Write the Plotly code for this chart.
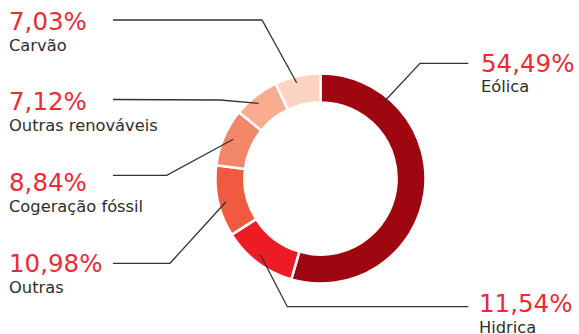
import plotly.graph_objects as go

labels = ["Eólica", "Hidrica", "Outras", "Cogeração fóssil", "Outras renováveis", "Carvão"]
values = [54.49, 11.54, 10.98, 8.84, 7.12, 7.03]
colors = ["#9E0710", "#ED1C24", "#F05A40", "#F4876A", "#F9AC8F", "#FCD3C1"]
pct_text = ["54,49%", "11,54%", "10,98%", "8,84%", "7,12%", "7,03%"]

W, H = 579, 334

def px(x, y):
    return x / W, 1 - y / H

# label layout (pixel positions of label blocks and leader lines)
label_pos = {
    "Eólica": (479, 63.3, 86.7),
    "Hidrica": (477, 303.7, 327.5),
    "Outras": (7, 263, 287),
    "Cogeração fóssil": (7, 182, 207),
    "Outras renováveis": (7, 101.3, 126),
    "Carvão": (7, 21.7, 45.5),
}
leaders = {
    "Eólica": [(468.3, 63.3), (420, 63.3), (382.7, 103.3)],
    "Hidrica": [(468.3, 306.7), (287.3, 306.7), (260, 254)],
    "Outras": [(113, 263.3), (170, 263.3), (226, 201.7)],
    "Cogeração fóssil": [(113, 175.3), (166.7, 175.3), (233.3, 139.3)],
    "Outras renováveis": [(113, 99.5), (220, 100), (258.7, 103.3)],
    "Carvão": [(113, 20), (262, 20), (296.7, 82.7)],
}

cx, cy, R = 320.5, 178.5, 105
fig = go.Figure(go.Pie(
    labels=labels, values=values, sort=False, direction="clockwise", rotation=0,
    hole=0.725, marker=dict(colors=colors, line=dict(color="white", width=2.5)),
    textinfo="none", showlegend=False,
    domain=dict(x=[(cx - R) / W, (cx + R) / W], y=[1 - (cy + R) / H, 1 - (cy - R) / H]),
))

shapes = []
annotations = []
font_main = "DejaVu Sans"
for lab, pt in zip(labels, pct_text):
    x, yp, yl = label_pos[lab]
    ax, ay = px(x, yp)
    annotations.append(dict(xref="paper", yref="paper", x=ax, y=ay, xanchor="left", yanchor="middle",
                            text=pt, showarrow=False, font=dict(family=font_main, size=24.5, color="#EE2A33")))
    ax, ay = px(x, yl)
    annotations.append(dict(xref="paper", yref="paper", x=ax, y=ay, xanchor="left", yanchor="middle",
                            text=lab, showarrow=False, font=dict(family=font_main, size=16.3, color="#2E2E2E")))
    pts = leaders[lab]
    path = "M " + " L ".join(f"{px(a, b)[0]},{px(a, b)[1]}" for a, b in pts)
    shapes.append(dict(type="path", xref="paper", yref="paper", path=path,
                       line=dict(color="#333333", width=1.3)))

fig.update_layout(width=W, height=H, margin=dict(l=0, r=0, t=0, b=0),
                  paper_bgcolor="white", plot_bgcolor="white",
                  shapes=shapes, annotations=annotations)
fig.write_html("out.html")
